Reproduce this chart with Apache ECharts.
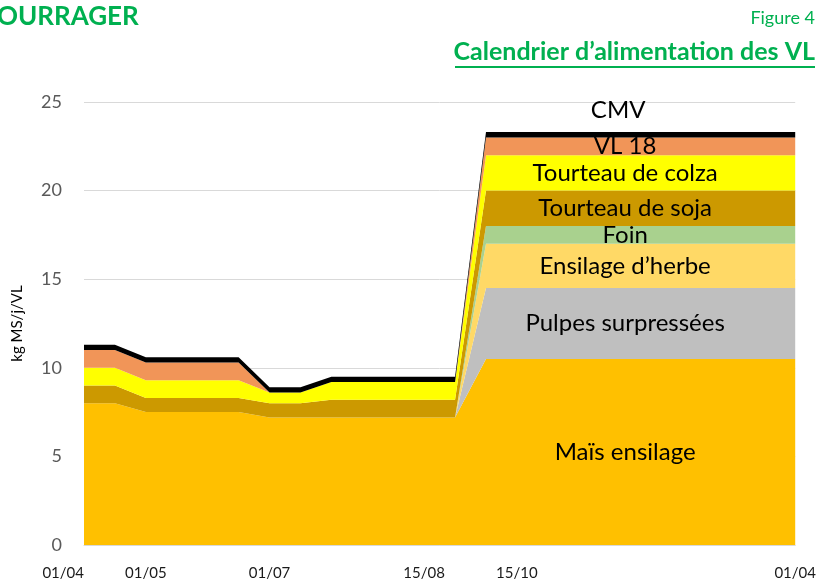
<!DOCTYPE html>
<html>
<head>
<meta charset="utf-8">
<script src="https://cdn.jsdelivr.net/npm/echarts@6/dist/echarts.min.js"></script>
<style>
  html, body { margin: 0; padding: 0; background: #ffffff; }
  #chart { width: 819px; height: 583px; }
</style>
</head>
<body>
<div id="chart"></div>
<script>
// Feeding calendar: 24 steps over the year, dated where the calendar marks a change
const periods = ['01/04', '', '01/05', '', '', '', '01/07', '', '', '', '', '15/08',
                 '', '', '15/10', '', '', '', '', '', '', '', '', '01/04'];

// kg DM / day / cow, per feed
const maizeSilage   = [8, 8, 7.5, 7.5, 7.5, 7.5, 7.2, 7.2, 7.2, 7.2, 7.2, 7.2, 7.2,
                       10.5, 10.5, 10.5, 10.5, 10.5, 10.5, 10.5, 10.5, 10.5, 10.5, 10.5];
const pressedPulp   = [0, 0, 0, 0, 0, 0, 0, 0, 0, 0, 0, 0, 0,
                       4, 4, 4, 4, 4, 4, 4, 4, 4, 4, 4];
const grassSilage   = [0, 0, 0, 0, 0, 0, 0, 0, 0, 0, 0, 0, 0,
                       2.5, 2.5, 2.5, 2.5, 2.5, 2.5, 2.5, 2.5, 2.5, 2.5, 2.5];
const hay           = [0, 0, 0, 0, 0, 0, 0, 0, 0, 0, 0, 0, 0,
                       1, 1, 1, 1, 1, 1, 1, 1, 1, 1, 1];
const soyMeal       = [1, 1, 0.8, 0.8, 0.8, 0.8, 0.8, 0.8, 1, 1, 1, 1, 1,
                       2, 2, 2, 2, 2, 2, 2, 2, 2, 2, 2];
const rapeseedMeal  = [1, 1, 1, 1, 1, 1, 0.6, 0.6, 1, 1, 1, 1, 1,
                       2, 2, 2, 2, 2, 2, 2, 2, 2, 2, 2];
const vl18          = [1, 1, 1, 1, 1, 1, 0, 0, 0, 0, 0, 0, 0,
                       1, 1, 1, 1, 1, 1, 1, 1, 1, 1, 1];
const cmv           = [0.3, 0.3, 0.3, 0.3, 0.3, 0.3, 0.3, 0.3, 0.3, 0.3, 0.3, 0.3, 0.3,
                       0.3, 0.3, 0.3, 0.3, 0.3, 0.3, 0.3, 0.3, 0.3, 0.3, 0.3];

const yTicks = { min: 0, max: 25, interval: 5 };

const layers = [
  { name: 'Maïs ensilage',         data: maizeSilage,  color: '#FFC000' },
  { name: 'Pulpes surpressées',    data: pressedPulp,  color: '#BFBFBF' },
  { name: 'Ensilage d\u2019herbe', data: grassSilage,  color: '#FFD966' },
  { name: 'Foin',                  data: hay,          color: '#A9D18E' },
  { name: 'Tourteau de soja',      data: soyMeal,      color: '#CC9900' },
  { name: 'Tourteau de colza',     data: rapeseedMeal, color: '#FFFF00' },
  { name: 'VL 18',                 data: vl18,         color: '#F19558' },
  { name: 'CMV',                   data: cmv,          color: '#000000' }
];

const GREEN = '#00B050';
const FONT = 'Lato, "Liberation Sans", sans-serif';

// Page header and figure title
const header = [
  {
    id: 'section', type: 'text', left: -3, top: 4,
    style: { text: 'OURRAGER', fill: GREEN, font: 'bold 26px ' + FONT }
  },
  {
    id: 'figno', type: 'text', right: 4, top: 9,
    style: { text: 'Figure 4', fill: GREEN, font: '18px ' + FONT }
  },
  {
    id: 'title', type: 'text', right: 4, top: 39,
    style: { text: 'Calendrier d\u2019alimentation des VL', fill: GREEN, font: 'bold 25px ' + FONT }
  },
  {
    id: 'underline', type: 'rect', right: 4, top: 66,
    shape: { width: 360, height: 2 },
    style: { fill: GREEN }
  }
];

const chart = echarts.init(document.getElementById('chart'), null, { renderer: 'canvas' });

chart.setOption({
  backgroundColor: '#ffffff',
  animation: false,
  grid: { left: 84, right: 19, top: 102, bottom: 38, containLabel: false },
  xAxis: {
    type: 'category',
    data: periods,
    boundaryGap: false,
    axisLine: { show: true, lineStyle: { color: '#D9D9D9' } },
    axisTick: { show: false },
    splitLine: { show: false },
    axisLabel: {
      interval: 0,
      margin: 21,
      fontSize: 15,
      fontFamily: FONT,
      color: '#1a1a1a',
      alignMinLabel: 'right',
      alignMaxLabel: 'center'
    }
  },
  yAxis: {
    type: 'value',
    min: yTicks.min,
    max: yTicks.max,
    interval: yTicks.interval,
    name: 'kg MS/j/VL',
    nameLocation: 'middle',
    nameGap: 59,
    nameRotate: 90,
    nameTextStyle: { fontSize: 15, fontFamily: FONT, color: '#000000' },
    axisLine: { show: false },
    axisTick: { show: false },
    axisLabel: { fontSize: 18, fontFamily: FONT, color: '#595959', margin: 22 },
    splitLine: { lineStyle: { color: '#D9D9D9', width: 1 } }
  },
  series: layers.map(l => ({
    name: l.name,
    type: 'line',
    stack: 'ration',
    data: l.data,
    symbol: 'none',
    lineStyle: { width: 0 },
    areaStyle: { color: l.color, opacity: 1 },
    itemStyle: { color: l.color },
    emphasis: { disabled: true }
  }))
});

// Band names, written in the middle of each layer of the winter ration
function bandNames() {
  const col = 17;
  const toPx = p => chart.convertToPixel({ xAxisIndex: 0, yAxisIndex: 0 }, p);
  const x = (toPx([col, 0])[0] + toPx([col + 1, 0])[0]) / 2;
  const out = [];
  let base = 0;
  layers.forEach((l, i) => {
    const v = l.data[col];
    const isCmv = l.name === 'CMV';
    const mid = isCmv ? base + v + 1.25 : base + v / 2;
    const y = toPx([col, mid])[1];
    out.push({
      id: 'band' + i,
      type: 'text',
      x: isCmv ? x - 7 : x,
      y: y,
      z: 100,
      style: {
        text: l.name,
        fill: '#000000',
        font: '24px ' + FONT,
        align: 'center',
        verticalAlign: 'middle'
      }
    });
    base += v;
  });
  return out;
}

chart.setOption({ graphic: header.concat(bandNames()) });
</script>
</body>
</html>
